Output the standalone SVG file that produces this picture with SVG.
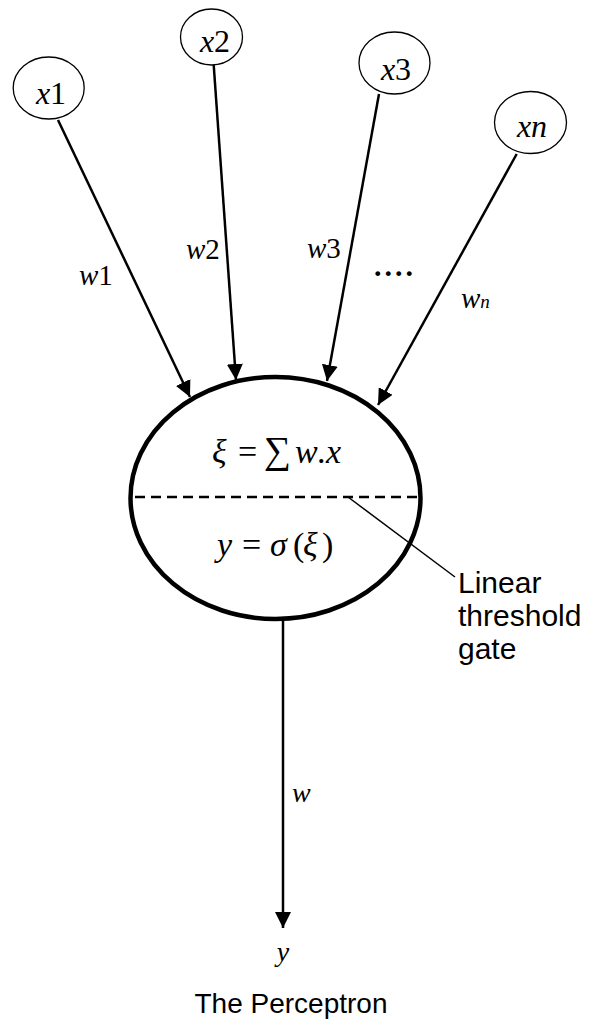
<svg xmlns="http://www.w3.org/2000/svg" width="594" height="1026" viewBox="0 0 594 1026">
<style>
.in{fill:#fff;stroke:#000;stroke-width:1.3}
.lbl{font-family:"Liberation Serif",serif;font-style:italic;fill:#000}
.num{font-style:normal}
.conn{stroke:#000;stroke-width:2.5;fill:none}
.sans{font-family:"Liberation Sans",Arial,sans-serif;font-size:30px;fill:#000}
.eq{font-family:"Liberation Serif",serif;font-size:34px;fill:#000}
.it{font-style:italic}
</style>
<defs>
<marker id="ah" viewBox="0 0 12 12" refX="12" refY="6" markerWidth="16" markerHeight="16" markerUnits="userSpaceOnUse" orient="auto">
<path d="M0,0 L12,6 L0,12 Z" fill="#000"/>
</marker>
</defs>
<rect width="594" height="1026" fill="#fff"/>
<g id="connectors">
<line class="conn" x1="58" y1="120" x2="190" y2="397" marker-end="url(#ah)"/>
<line class="conn" x1="213.7" y1="65" x2="236" y2="380" marker-end="url(#ah)"/>
<line class="conn" x1="379" y1="94" x2="327" y2="381" marker-end="url(#ah)"/>
<line class="conn" x1="516.7" y1="154" x2="378" y2="405" marker-end="url(#ah)"/>
<line class="conn" x1="283" y1="620" x2="283" y2="928" marker-end="url(#ah)"/>
<line x1="348" y1="497" x2="455" y2="577" stroke="#000" stroke-width="1.5"/>
<text class="lbl" x="79" y="285" font-size="29">w<tspan class="num">1</tspan></text>
<text class="lbl" x="186" y="259" font-size="29">w<tspan class="num">2</tspan></text>
<text class="lbl" x="307" y="258" font-size="29">w<tspan class="num">3</tspan></text>
<text class="lbl" x="461" y="308" font-size="29">w<tspan font-size="19">n</tspan></text>
<text x="374" y="276" font-family="Liberation Serif,serif" font-size="30" font-weight="bold" letter-spacing="3">....</text>
<text class="lbl" x="292" y="802" font-size="28">w</text>
</g>
<g id="x1"><ellipse class="in" cx="48.7" cy="88" rx="35.5" ry="31"/><text class="lbl" x="51" y="104" font-size="32" text-anchor="middle">x<tspan class="num">1</tspan></text></g>
<g id="x2"><ellipse class="in" cx="211.5" cy="37" rx="31" ry="28"/><text class="lbl" x="215" y="52" font-size="32" text-anchor="middle">x<tspan class="num">2</tspan></text></g>
<g id="x3"><ellipse class="in" cx="394.5" cy="63" rx="35.5" ry="31"/><text class="lbl" x="396" y="80" font-size="32" text-anchor="middle">x<tspan class="num">3</tspan></text></g>
<g id="xn"><ellipse class="in" cx="530.5" cy="122.5" rx="36" ry="31"/><text class="lbl" x="532" y="137" font-size="32" text-anchor="middle">xn</text></g>
<g id="neuron">
<ellipse cx="275.5" cy="498" rx="145" ry="121" fill="none" stroke="#000" stroke-width="4.5"/>
<line x1="135" y1="497" x2="423" y2="497" stroke="#000" stroke-width="2.5" stroke-dasharray="10,6"/>
<text class="eq" y="463"><tspan class="it" x="212">ξ</tspan><tspan x="238">=</tspan><tspan x="264" font-size="38">∑</tspan><tspan class="it" x="295">w</tspan><tspan x="317">.</tspan><tspan class="it" x="326">x</tspan></text>
<text class="eq" y="556"><tspan class="it" x="217">y</tspan><tspan x="242">=</tspan><tspan class="it" x="270">σ</tspan><tspan x="293">(</tspan><tspan class="it" x="303">ξ</tspan><tspan x="322">)</tspan></text>
</g>
<g id="gate-label">
<text class="sans" x="458" y="593">Linear</text>
<text class="sans" x="458" y="626">threshold</text>
<text class="sans" x="458" y="659">gate</text>
</g>
<g id="output">
<text class="lbl" x="283" y="961" font-size="28" text-anchor="middle">y</text>
<text class="sans" x="291" y="1013" text-anchor="middle" style="font-size:28px">The Perceptron</text>
</g>
</svg>
